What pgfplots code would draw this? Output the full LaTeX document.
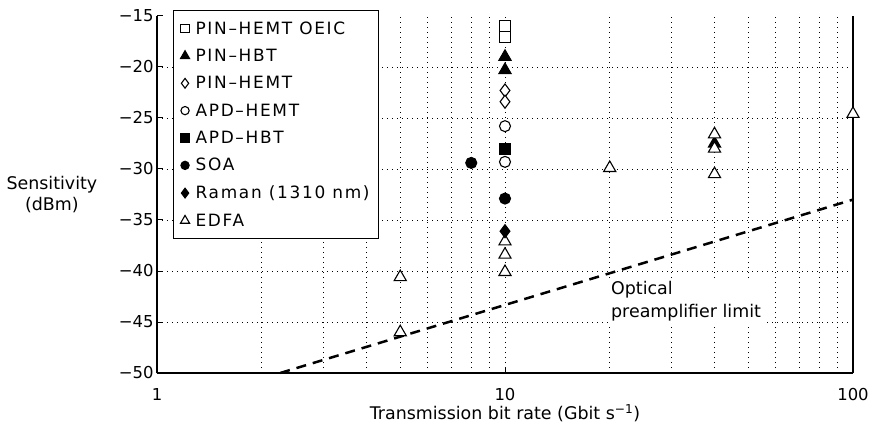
\documentclass[border=0pt]{standalone}
\usepackage{fontspec}
\setmainfont{DejaVu Sans}
\newfontfamily\legfont[LetterSpace=10]{DejaVu Sans}
\usepackage{pgfplots}
\pgfplotsset{compat=1.18}
\begin{document}
\begin{tikzpicture}
\begin{axis}[
  scale only axis, width=696bp, height=357bp,
  xmode=log, log basis x=10,
  xmin=1, xmax=100, ymin=-50, ymax=-15,
  xtick={1,10,100}, xticklabels={1,10,100},
  minor xtick={2,3,4,5,6,7,8,9,20,30,40,50,60,70,80,90},
  ytick={-50,-45,-40,-35,-30,-25,-20,-15},
  yticklabels={−50,−45,−40,−35,−30,−25,−20,−15},
  axis x line*=bottom, axis y line*=box,
  ytick pos=left,
  tick align=inside, major tick length=6bp, minor tick length=0bp,
  axis line style={line width=1.3bp, black},
  every tick/.style={black, line width=1bp},
  xmajorgrids, xminorgrids,
  grid style={black, line width=0.7bp, dash pattern=on 0.8bp off 4.2bp},
  minor grid style={black, line width=0.7bp, dash pattern=on 0.8bp off 4.2bp},
  extra y ticks={-45,-40,-35,-30,-25,-20},
  extra y tick labels={},
  extra y tick style={grid=major, major tick length=0bp},
  tick label style={font=\fontsize{16.5}{18}\selectfont},
  xticklabel style={anchor=center, yshift=-22bp},
  label style={font=\fontsize{17.5}{22}\selectfont},
  xlabel={Transmission bit rate (Gbit s\textsuperscript{−1})},
  xlabel style={at={(axis description cs:0.5,0)}, anchor=center, yshift=-40bp},
  ylabel={Sensitivity\\(dBm)},
  ylabel style={rotate=-90, align=center, at={(axis description cs:-0.151,0.5)}, anchor=center},
  clip=false,
  legend cell align=left,
  legend image code/.code={\draw[#1, /tikz/every mark/.append style={scale=0.75}] plot coordinates {(0bp,0bp)};},
  legend style={at={(axis description cs:0,1)}, anchor=north west, xshift=16bp, yshift=6bp,
    draw=black, line width=1bp, fill=white,
    inner xsep=7bp, inner ysep=9bp, row sep=9.5bp,
    /tikz/every odd column/.append style={column sep=4bp},
    font=\legfont\fontsize{17}{20}\selectfont},
  every axis plot/.append style={line width=1.1bp},
]
\coordinate (sw) at (rel axis cs:0,0);
\addplot[only marks, mark=square*, mark size=5.5bp, draw=black, fill=white] coordinates {(10,-16.0) (10,-17.1)};
\addlegendentry{PIN–HEMT OEIC}
\addplot[only marks, mark=triangle*, mark size=7bp, draw=black, fill=black] coordinates {(10,-19.0) (10,-20.3) (40,-27.5)};
\addlegendentry{PIN–HBT}
\addplot[only marks, mark=diamond*, mark size=6.5bp, draw=black, fill=white] coordinates {(10,-22.3) (10,-23.4)};
\addlegendentry{PIN–HEMT}
\addplot[only marks, mark=*, mark size=5.5bp, draw=black, fill=white] coordinates {(10,-25.8) (10,-29.3)};
\addlegendentry{APD–HEMT}
\addplot[only marks, mark=square*, mark size=5.5bp, draw=black, fill=black] coordinates {(10,-28.0)};
\addlegendentry{APD–HBT}
\addplot[only marks, mark=*, mark size=5.5bp, draw=black, fill=black] coordinates {(8,-29.4) (10,-32.9)};
\addlegendentry{SOA}
\addplot[forget plot, only marks, mark=triangle*, mark size=7bp, draw=black, fill=white] coordinates {(10,-37.1) (10,-38.4) (10,-40.1) (5,-40.6) (5,-46.0) (20,-29.9) (40,-26.6) (40,-28.0) (40,-30.5) (100,-24.6)};
\addplot[only marks, mark=diamond*, mark size=6.5bp, draw=black, fill=black] coordinates {(10,-36.1)};
\addlegendentry{Raman (1310 nm)}
\addlegendimage{only marks, mark=triangle*, mark size=7bp, draw=black, fill=white, line width=1.1bp}
\addlegendentry{EDFA}
\node[anchor=west, align=left, fill=white, inner sep=2bp, font=\fontsize{17.5}{23}\selectfont] at (axis cs:19.9,-43.0) {Optical\\preamplifier limit};
\addplot[black, line width=2.5bp, dash pattern=on 10bp off 7bp] coordinates {(2.26,-50) (100,-33.0)};
\end{axis}
\pgfresetboundingbox
\path (sw) ++(-157bp,-57bp) rectangle ++(875bp,430bp);
\end{tikzpicture}
\end{document}
